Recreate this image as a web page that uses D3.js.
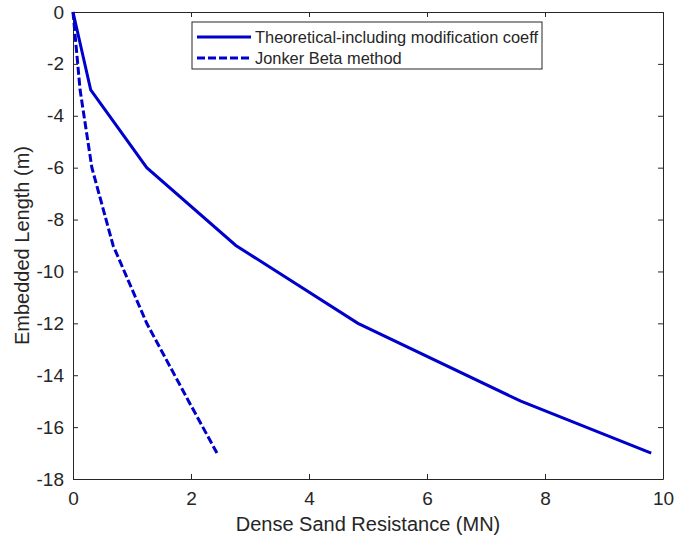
<!DOCTYPE html>
<html>
<head>
<meta charset="utf-8">
<script src="https://cdn.jsdelivr.net/npm/d3@7"></script>
<style>
  body { margin: 0; background: #fff; }
  text { font-family: "Liberation Sans", Arial, sans-serif; fill: #262626; }
</style>
</head>
<body>
<svg id="chart" width="688" height="539"></svg>
<script>
// depths (m) and resistance (MN)
const depth = [0, -3, -6, -9, -12, -15, -17];
const theoretical = [0, 0.30, 1.25, 2.76, 4.83, 7.59, 9.80];
const jonker = [0, 0.12, 0.32, 0.68, 1.25, 1.96, 2.44];
const xTicks = [0, 2, 4, 6, 8, 10];
const yTicks = [0, -2, -4, -6, -8, -10, -12, -14, -16, -18];

const series = [
  { name: "Theoretical-including modification coeff", values: theoretical, dash: null },
  { name: "Jonker Beta method", values: jonker, dash: "8,3" }
];

const svg = d3.select("#chart");
const mLeft = 73, mRight = 663, mTop = 12, mBottom = 479;
const color = "#0000cd";

const x = d3.scaleLinear().domain([0, 10]).range([mLeft, mRight]);
const y = d3.scaleLinear().domain([-18, 0]).range([mBottom, mTop]);

// axes, MATLAB style ticks pointing inward
const axisColor = "#262626";
const gx = svg.append("g").attr("transform", "translate(0," + mBottom + ")")
    .call(d3.axisBottom(x).tickValues(xTicks).tickSizeInner(-5).tickSizeOuter(0).tickPadding(13));
const gxTop = svg.append("g").attr("transform", "translate(0," + mTop + ")")
    .call(d3.axisTop(x).tickValues(xTicks).tickSizeInner(-5).tickSizeOuter(0).tickFormat(""));
const gy = svg.append("g").attr("transform", "translate(" + mLeft + ",0)")
    .call(d3.axisLeft(y).tickValues(yTicks).tickSizeInner(-5).tickSizeOuter(0).tickPadding(9));
const gyRight = svg.append("g").attr("transform", "translate(" + mRight + ",0)")
    .call(d3.axisRight(y).tickValues(yTicks).tickSizeInner(-5).tickSizeOuter(0).tickFormat(""));

[gx, gxTop, gy, gyRight].forEach(g => {
  g.attr("font-size", null).attr("font-family", null);
  g.select(".domain").attr("stroke", axisColor);
  g.selectAll(".tick line").attr("stroke", axisColor);
  g.selectAll(".tick text").style("font-size", "19px").style("fill", axisColor);
});
gy.selectAll(".tick text").text(d => d === 0 ? "0" : "-" + Math.abs(d));

// plot lines
const line = d3.line().x(d => x(d[0])).y(d => y(d[1]));
series.forEach(s => {
  svg.append("path")
      .datum(s.values.map((v, i) => [v, depth[i]]))
      .attr("d", line)
      .attr("fill", "none")
      .attr("stroke", color)
      .attr("stroke-width", 3)
      .attr("stroke-dasharray", s.dash);
});

// axis labels
svg.append("text")
    .attr("x", (mLeft + mRight) / 2).attr("y", 531)
    .attr("text-anchor", "middle").attr("font-size", 20)
    .text("Dense Sand Resistance (MN)");
svg.append("text")
    .attr("transform", "translate(29," + ((mTop + mBottom) / 2) + ") rotate(-90)")
    .attr("text-anchor", "middle").attr("font-size", 20)
    .text("Embedded Length (m)");

// legend
const lg = svg.append("g").attr("transform", "translate(192,22)");
lg.append("rect").attr("width", 350).attr("height", 47)
    .attr("fill", "#fff").attr("stroke", axisColor).attr("stroke-width", 1);
series.forEach((s, i) => {
  const ly = 15 + i * 21;
  lg.append("line").attr("x1", 5).attr("x2", 59).attr("y1", ly).attr("y2", ly)
      .attr("stroke", color).attr("stroke-width", 3).attr("stroke-dasharray", s.dash);
  lg.append("text").attr("x", 63).attr("y", ly + 6).attr("font-size", 16.4).text(s.name);
});
</script>
</body>
</html>
